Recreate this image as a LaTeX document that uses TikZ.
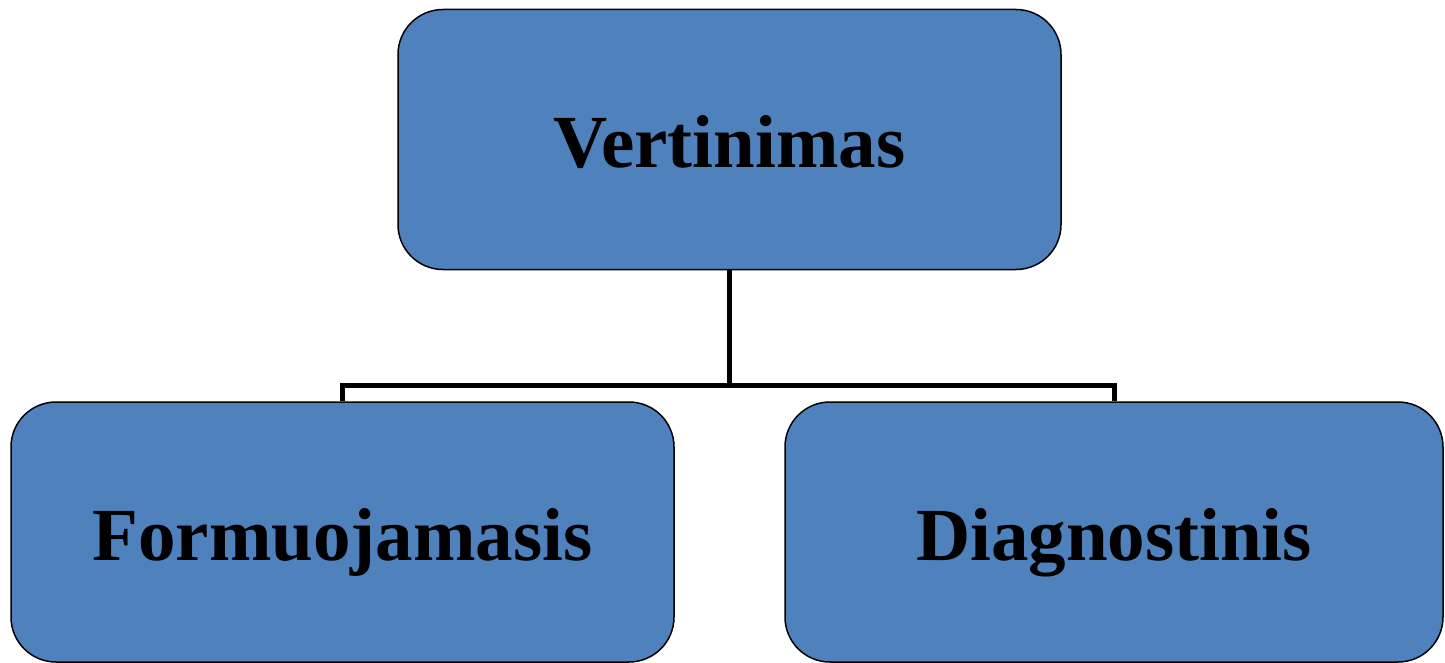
\documentclass[tikz,border=0pt]{standalone}
\usepackage{fontspec}
\setmainfont{Liberation Serif}
\definecolor{boxblue}{HTML}{4F81BD}
\begin{document}
\begin{tikzpicture}[x=1pt,y=-1pt,
  box/.style={draw=black, line width=1.5pt, fill=boxblue, rounded corners=45pt,
    minimum height=260pt, inner sep=0pt, text height=56pt, text depth=0pt,
    font=\fontsize{75}{85}\selectfont\bfseries},
  conn/.style={draw=black, line width=5pt}]
\useasboundingbox (0,0) rectangle (1445,663);
\node[box, minimum width=663pt] (top) at (729.5,139.5) {Vertinimas};
\node[box, minimum width=663pt] (bl) at (342.5,532) {Formuojamasis};
\node[box, minimum width=658pt] (br) at (1114,532) {Diagnostinis};
\coordinate (mid) at (729.5,385);
\draw[conn] (top.south) -- (mid);
\draw[conn] (mid) -| (bl.north);
\draw[conn] (mid) -| (br.north);
\end{tikzpicture}
\end{document}
